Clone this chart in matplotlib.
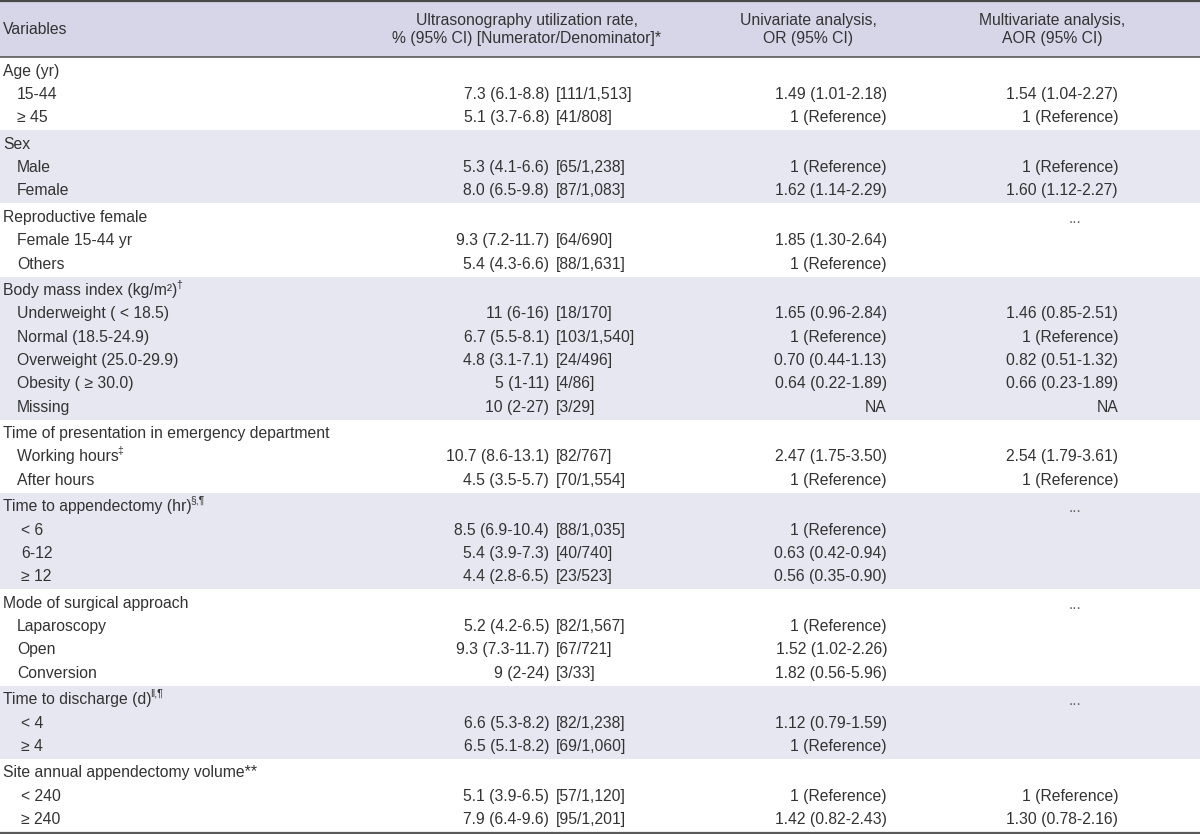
import matplotlib
matplotlib.use("Agg")
import matplotlib.pyplot as plt
from matplotlib.patches import Rectangle

plt.rcParams['font.family'] = ['Liberation Sans Narrow', 'Liberation Sans', 'DejaVu Sans']

# ---------------- data ----------------
col_headers = ["Variables",
               "Ultrasonography utilization rate,\n% (95% CI) [Numerator/Denominator]*",
               "Univariate analysis,\nOR (95% CI)",
               "Multivariate analysis,\nAOR (95% CI)"]

group_titles = ["Age (yr)", "Sex", "Reproductive female", "Body mass index (kg/m\u00b2)",
                "Time of presentation in emergency department", "Time to appendectomy (hr)",
                "Mode of surgical approach", "Time to discharge (d)",
                "Site annual appendectomy volume**"]
group_marks = ["", "", "", "\u2020", "", "\u00a7,\u00b6", "", "\u2016,\u00b6", ""]
group_multi_note = ["", "", "...", "", "", "...", "...", "...", ""]

sub_labels = [
    ["15-44", "\u2265 45"],
    ["Male", "Female"],
    ["Female 15-44 yr", "Others"],
    ["Underweight ( < 18.5)", "Normal (18.5-24.9)", "Overweight (25.0-29.9)",
     "Obesity ( \u2265 30.0)", "Missing"],
    ["Working hours", "After hours"],
    ["< 6", "6-12", "\u2265 12"],
    ["Laparoscopy", "Open", "Conversion"],
    ["< 4", "\u2265 4"],
    ["< 240", "\u2265 240"],
]
sub_marks = [
    ["", ""], ["", ""], ["", ""], ["", "", "", "", ""],
    ["\u2021", ""], ["", "", ""], ["", "", ""], ["", ""], ["", ""],
]
rates = [
    ["7.3 (6.1-8.8)", "5.1 (3.7-6.8)"],
    ["5.3 (4.1-6.6)", "8.0 (6.5-9.8)"],
    ["9.3 (7.2-11.7)", "5.4 (4.3-6.6)"],
    ["11 (6-16)", "6.7 (5.5-8.1)", "4.8 (3.1-7.1)", "5 (1-11)", "10 (2-27)"],
    ["10.7 (8.6-13.1)", "4.5 (3.5-5.7)"],
    ["8.5 (6.9-10.4)", "5.4 (3.9-7.3)", "4.4 (2.8-6.5)"],
    ["5.2 (4.2-6.5)", "9.3 (7.3-11.7)", "9 (2-24)"],
    ["6.6 (5.3-8.2)", "6.5 (5.1-8.2)"],
    ["5.1 (3.9-6.5)", "7.9 (6.4-9.6)"],
]
counts = [
    ["[111/1,513]", "[41/808]"],
    ["[65/1,238]", "[87/1,083]"],
    ["[64/690]", "[88/1,631]"],
    ["[18/170]", "[103/1,540]", "[24/496]", "[4/86]", "[3/29]"],
    ["[82/767]", "[70/1,554]"],
    ["[88/1,035]", "[40/740]", "[23/523]"],
    ["[82/1,567]", "[67/721]", "[3/33]"],
    ["[82/1,238]", "[69/1,060]"],
    ["[57/1,120]", "[95/1,201]"],
]
or_uni = [
    ["1.49 (1.01-2.18)", "1 (Reference)"],
    ["1 (Reference)", "1.62 (1.14-2.29)"],
    ["1.85 (1.30-2.64)", "1 (Reference)"],
    ["1.65 (0.96-2.84)", "1 (Reference)", "0.70 (0.44-1.13)", "0.64 (0.22-1.89)", "NA"],
    ["2.47 (1.75-3.50)", "1 (Reference)"],
    ["1 (Reference)", "0.63 (0.42-0.94)", "0.56 (0.35-0.90)"],
    ["1 (Reference)", "1.52 (1.02-2.26)", "1.82 (0.56-5.96)"],
    ["1.12 (0.79-1.59)", "1 (Reference)"],
    ["1 (Reference)", "1.42 (0.82-2.43)"],
]
aor_multi = [
    ["1.54 (1.04-2.27)", "1 (Reference)"],
    ["1 (Reference)", "1.60 (1.12-2.27)"],
    ["", ""],
    ["1.46 (0.85-2.51)", "1 (Reference)", "0.82 (0.51-1.32)", "0.66 (0.23-1.89)", "NA"],
    ["2.54 (1.79-3.61)", "1 (Reference)"],
    ["", "", ""],
    ["", "", ""],
    ["", ""],
    ["1 (Reference)", "1.30 (0.78-2.16)"],
]
shaded = [False, True, False, True, False, True, False, True, False]

# ---------------- layout ----------------
W, H = 1200, 834
fig = plt.figure(figsize=(W / 100, H / 100), dpi=100)
ax = fig.add_axes([0, 0, 1, 1])
ax.set_xlim(0, W)
ax.set_ylim(H, 0)
ax.axis("off")

TXT = "#333333"
FS = 11.3
SUPFS = 7.5
HEADER_BG = "#d6d6e8"
BAND_BG = "#e7e7f1"

header_bottom = 57
table_bottom = 832
row_h = 23.3
n_rows = sum(len(s) + 1 for s in sub_labels)
pad = (table_bottom - header_bottom - n_rows * row_h) / len(sub_labels)

x_var = 3
x_sub = 17
x_rate_r = 549
x_cnt_l = 556
x_or_r = 887
x_aor_r = 1118
x_dots = 1075
group_indent = [0, 0, 0, 0, 0, 4, 0, 4, 4]

fig.canvas.draw()
renderer = fig.canvas.get_renderer()


def put(x, y, s, ha="left", mark=""):
    t = ax.text(x, y, s, ha=ha, va="center", fontsize=FS, color=TXT)
    if mark:
        bb = t.get_window_extent(renderer)
        ax.text(bb.x1 - 1, y - 6, mark, ha="left", va="center",
                fontsize=SUPFS, color=TXT)
    return t


# header
ax.add_patch(Rectangle((0, 0), W, header_bottom, facecolor=HEADER_BG, edgecolor="none"))
hy = header_bottom / 2 + 1
ax.text(x_var, hy, col_headers[0], ha="left", va="center", fontsize=FS, color=TXT)
ax.text(527, hy, col_headers[1], ha="center", va="center", fontsize=FS, color=TXT,
        linespacing=1.25)
ax.text(808, hy, col_headers[2], ha="center", va="center", fontsize=FS, color=TXT,
        linespacing=1.25)
ax.text(1052, hy, col_headers[3], ha="center", va="center", fontsize=FS, color=TXT,
        linespacing=1.25)

y = header_bottom
for g, title in enumerate(group_titles):
    n = len(sub_labels[g]) + 1
    gh = n * row_h + pad
    if shaded[g]:
        ax.add_patch(Rectangle((0, y), W, gh, facecolor=BAND_BG, edgecolor="none"))
    cy = y + pad / 2 + row_h / 2 + 0.8
    put(x_var, cy, title, mark=group_marks[g])
    if group_multi_note[g]:
        ax.text(x_dots, cy + 1, group_multi_note[g], ha="center", va="center",
                fontsize=FS, color="#666666")
    for i, lab in enumerate(sub_labels[g]):
        ry = cy + (i + 1) * row_h
        put(x_sub + group_indent[g], ry, lab, mark=sub_marks[g][i])
        put(x_rate_r, ry, rates[g][i], ha="right")
        put(x_cnt_l, ry, counts[g][i], ha="left")
        put(x_or_r, ry, or_uni[g][i], ha="right")
        if aor_multi[g][i]:
            put(x_aor_r, ry, aor_multi[g][i], ha="right")
    y += gh

# rules
ax.plot([0, W], [1, 1], color="#4a4a4a", lw=1.6, solid_capstyle="butt")
ax.plot([0, W], [header_bottom, header_bottom], color="#5a5a5a", lw=1.2,
        solid_capstyle="butt")
ax.plot([0, W], [table_bottom + 0.5, table_bottom + 0.5], color="#5a5a5a", lw=1.6,
        solid_capstyle="butt")

fig.savefig("out.png", dpi=100, facecolor="white")
